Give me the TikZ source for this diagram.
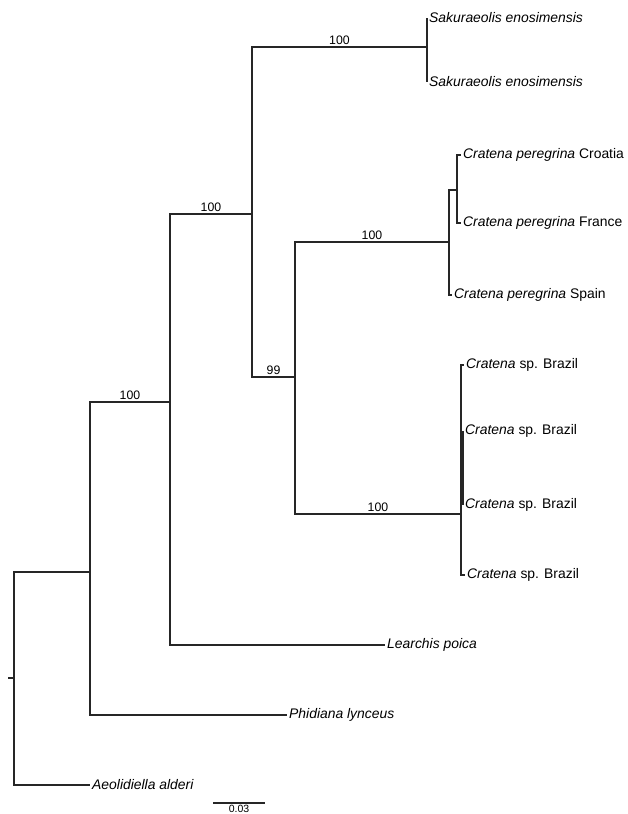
\documentclass[tikz,border=0pt]{standalone}
\usepackage{fontspec}
\setmainfont{Liberation Sans}
\usetikzlibrary{positioning,calc}
\tikzset{
  branch/.style={draw=black!85, line width=1.2pt},
  taxon/.style={anchor=west, inner sep=2pt, font=\fontsize{13.9}{15}\selectfont},
  support/.style={above, inner sep=1.5pt, font=\fontsize{12.3}{14}\selectfont}
}

\begin{document}
\begin{tikzpicture}[x=1pt, y=-1pt]
\useasboundingbox (0,0) rectangle (628,814);
\coordinate (root) at (14,678);
\coordinate (rootTip) at (8,678);
\coordinate (nodeA) at (90,572);
\coordinate (nodeB) at (170,402);
\coordinate (nodeC) at (252,214);
\coordinate (nodeSak) at (427,47);
\coordinate (nodeD) at (295,377);
\coordinate (nodePer) at (449,242);
\coordinate (nodeCF) at (457,190);
\coordinate (nodeBra) at (461,514);
\coordinate (nodeBra2) at (463,479);
\node[taxon] (sak1) at (427,18) {\textit{Sakuraeolis enosimensis}};
\node[taxon] (sak2) at (427,82) {\textit{Sakuraeolis enosimensis}};
\node[taxon] (croatia) at (461,155) {\textit{Cratena peregrina} Croatia};
\node[taxon] (france) at (461,223) {\textit{Cratena peregrina} France};
\node[taxon] (spain) at (452,295) {\textit{Cratena peregrina} Spain};
\node[taxon] (bra1) at (464,365) {\textit{Cratena} sp. Brazil};
\node[taxon] (bra2) at (463,431) {\textit{Cratena} sp. Brazil};
\node[taxon] (bra3) at (463,505) {\textit{Cratena} sp. Brazil};
\node[taxon] (bra4) at (465,575) {\textit{Cratena} sp. Brazil};
\node[taxon] (learchis) at (385,645) {\textit{Learchis poica}};
\node[taxon] (phidiana) at (287,715) {\textit{Phidiana lynceus}};
\node[taxon] (aeolidiella) at (90,785) {\textit{Aeolidiella alderi}};
\draw[branch] (rootTip) -- (root);
\draw[branch] (root) |- (nodeA);
\draw[branch] (root) |- (aeolidiella.west);
\draw[branch] (nodeA) |- node[support, pos=0.75] {100} (nodeB);
\draw[branch] (nodeA) |- (phidiana.west);
\draw[branch] (nodeB) |- node[support, pos=0.75] {100} (nodeC);
\draw[branch] (nodeB) |- (learchis.west);
\draw[branch] (nodeC) |- node[support, pos=0.75] {100} (nodeSak);
\draw[branch] (nodeC) |- node[support, pos=0.75] {99} (nodeD);
\draw[branch] (nodeSak) |- (sak1.west);
\draw[branch] (nodeSak) |- (sak2.west);
\draw[branch] (nodeD) |- node[support, pos=0.75] {100} (nodePer);
\draw[branch] (nodeD) |- node[support, pos=0.75] {100} (nodeBra);
\draw[branch] (nodePer) |- (nodeCF);
\draw[branch] (nodePer) |- (spain.west);
\draw[branch] (nodeCF) |- (croatia.west);
\draw[branch] (nodeCF) |- (france.west);
\draw[branch] (nodeBra) |- (bra1.west);
\draw[branch] (nodeBra) |- (nodeBra2);
\draw[branch] (nodeBra) |- (bra4.west);
\draw[branch] (nodeBra2) |- (bra2.west);
\draw[branch] (nodeBra2) |- (bra3.west);
\coordinate (scaleL) at (213,803);
\coordinate (scaleR) at (265,803);
\draw[branch] (scaleL) -- node[below, inner sep=1.5pt, font=\fontsize{10.5}{12}\selectfont] (scaleLabel) {0.03} (scaleR);
\end{tikzpicture}
\end{document}
